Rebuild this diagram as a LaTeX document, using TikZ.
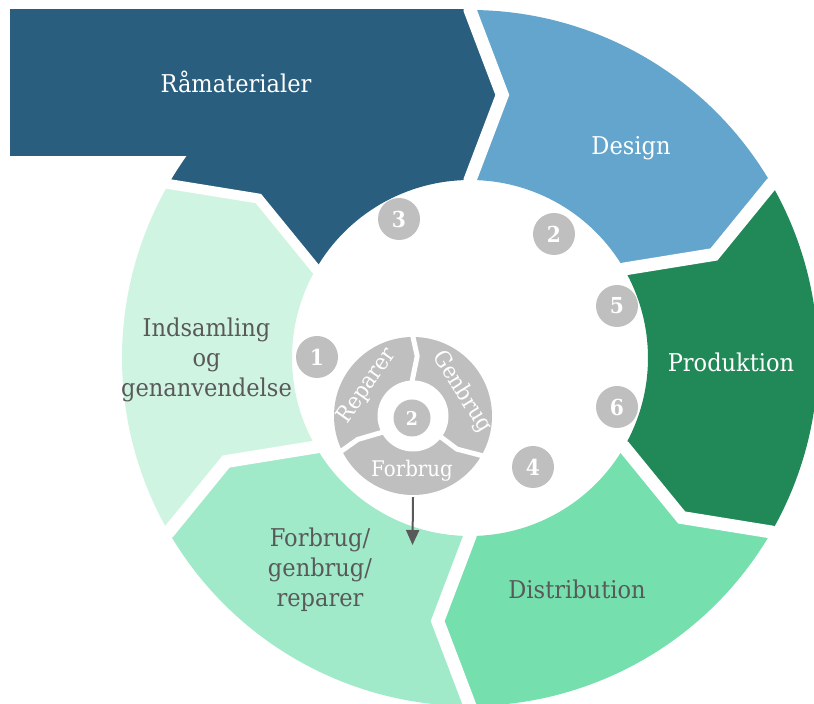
\documentclass[tikz,border=0pt]{standalone}
\usepackage{fontspec}
\setmainfont{DejaVu Serif}[FakeStretch=0.92]
\usetikzlibrary{arrows.meta}
\definecolor{raw}{HTML}{295E7E}
\definecolor{des}{HTML}{63A5CC}
\definecolor{prod}{HTML}{208957}
\definecolor{dist}{HTML}{75DFAE}
\definecolor{forb}{HTML}{A0EACA}
\definecolor{inds}{HTML}{D0F4E2}
\definecolor{ringgray}{HTML}{BFBFBF}
\definecolor{txtgray}{HTML}{595959}
\begin{document}
\begin{tikzpicture}[x=1pt,y=1pt,
  gapline/.style={draw=white, line width=13pt},
  smallgap/.style={draw=white, line width=5pt},
  lbl/.style={font=\fontsize{24.5}{30}\selectfont, align=center, anchor=base, inner sep=0pt},
  ringtxt/.style={font=\fontsize{22.5}{22.5}\selectfont, text=white, inner sep=0pt},
  numc/.style={circle, fill=ringgray, minimum size=42pt, inner sep=0pt, text=white,
    font=\fontsize{22}{22}\selectfont\bfseries},
  arr/.style={draw=txtgray, line width=2pt, -{Triangle[length=15pt,width=13pt]}}]
\useasboundingbox (0,0) rectangle (814,704);
\clip (0,0) rectangle (814,704);
% raw material rectangle extension
\fill[raw] (10,548) rectangle (470,695);
% ring segments
\begin{scope}[shift={(470,346)}]
  \foreach \a/\c in {90/des,30/prod,-30/dist,-90/forb,-150/inds,150/raw}{
    \pgfmathsetmacro{\b}{\a-60}
    \pgfmathsetmacro{\ka}{\a-7}
    \pgfmathsetmacro{\kb}{\a-67}
    \fill[\c] (\a:178) -- (\ka:265) -- (\a:348)
      arc[start angle=\a, end angle=\b, radius=348]
      -- (\kb:265) -- (\b:178)
      arc[start angle=\b, end angle=\a, radius=178] -- cycle;
  }
  \foreach \a in {90,30,-30,-90,-150}{
    \draw[gapline] (\a:160) -- (\a:178) -- (\a-7:265) -- (\a:348) -- (\a:385);
  }
  \draw[gapline, line width=10pt] (150:160) -- (150:178) -- (143:265) -- (150:348) -- (150:375);
\end{scope}
% main labels
\node[lbl, text=white] (lraw) at (236,611) {Råmaterialer};
\node[lbl, text=white] (ldes) at (631,549) {Design};
\node[lbl, text=white] (lprod) at (731,332) {Produktion};
\node[lbl, text=txtgray] (ldist) at (577,105) {Distribution};
\node[lbl, text=txtgray] (lforb) at (320,97) {Forbrug/\\genbrug/\\reparer};
\node[lbl, text=txtgray] (linds) at (206.5,307) {Indsamling\\og\\genanvendelse};
% numbered circles
\node[numc] (n3) at (399,485) {3};
\node[numc] (n2) at (554,470) {2};
\node[numc] (n5) at (617,398) {5};
\node[numc] (n1) at (317,347) {1};
\node[numc] (n6) at (617,297) {6};
\node[numc] (n4) at (533,237) {4};
% inner gray cycle
\node[circle, fill=ringgray, minimum size=158pt, inner sep=0pt] (cyc) at (413,288) {};
\node[circle, fill=white, minimum size=71pt, inner sep=0pt] (hole) at (413,288) {};
\begin{scope}[shift={(413,288)}]
  \draw[smallgap] (91:28) -- (91:36) -- (86:60) -- (90:79) -- (90:86);
  \draw[smallgap] (-37:28) -- (-37:36) -- (-37:55) -- (-30:79) -- (-30:86);
  \draw[smallgap] (207.5:28) -- (207.5:36) -- (203:60) -- (206:79) -- (206:86);
\end{scope}
\node[numc, minimum size=37pt, font=\fontsize{19}{19}\selectfont\bfseries] (c2) at (412,286) {2};
\node[ringtxt, rotate=55] (rep) at (367,318) {Reparer};
\node[ringtxt, rotate=-58] (gen) at (462,312) {Genbrug};
\node[ringtxt, anchor=base, font=\fontsize{21.5}{21.5}\selectfont] (fsm) at (412,227) {Forbrug};
% arrow
\coordinate (arrend) at (412.5,159);
\draw[arr] ([yshift=-2pt]cyc.south) -- (arrend);
\end{tikzpicture}
\end{document}
